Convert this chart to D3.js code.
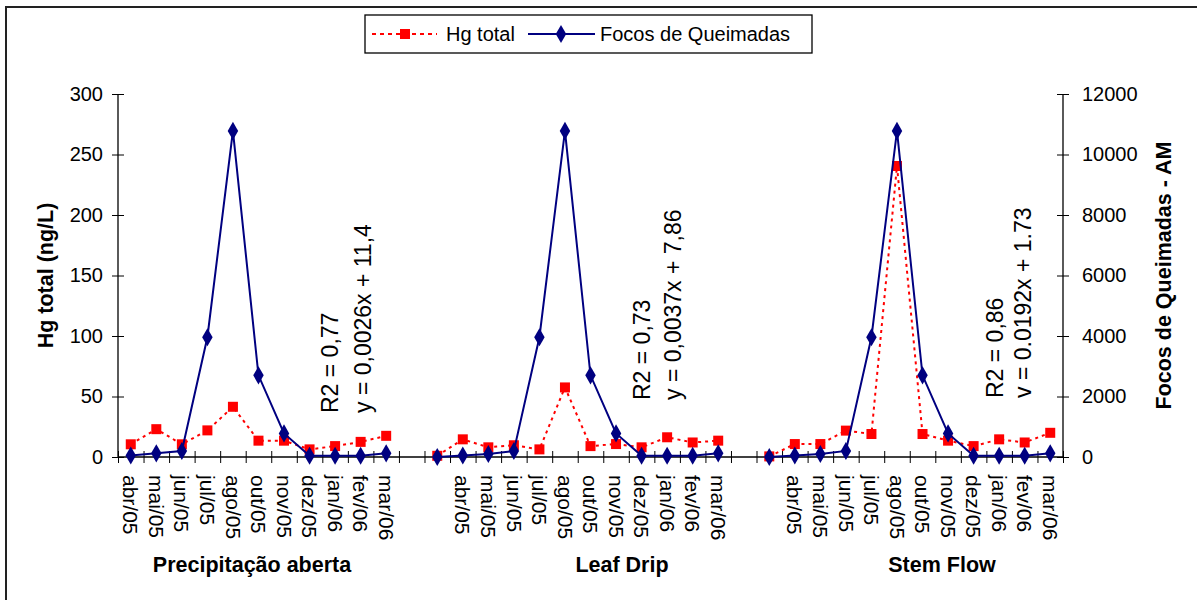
<!DOCTYPE html>
<html>
<head>
<meta charset="utf-8">
<script src="https://cdn.jsdelivr.net/npm/d3@7"></script>
<style>
  body { margin: 0; background: #fff; }
  svg text { font-family: "Liberation Sans", Arial, sans-serif; fill: #000; }
</style>
</head>
<body>
<div id="app"></div>
<script>
// month labels used under each group
const months = ["abr/05", "mai/05", "jun/05", "jul/05", "ago/05", "out/05",
  "nov/05", "dez/05", "jan/06", "fev/06", "mar/06"];
const groupNames = ["Precipitação aberta", "Leaf Drip", "Stem Flow"];

// Hg total (ng/L), left axis
const hgPrecip = [10.5, 23, 10.5, 22, 41.5, 13.5, 13.5, 6.3, 9, 12.5, 17.5];
const hgLeaf = [1, 14.6, 8, 9.7, 6.3, 57.5, 9, 10.7, 8, 16.3, 12, 13.5];
const hgStem = [0.5, 10.7, 10.7, 21.8, 19, 240.5, 19, 13.5, 9, 14.6, 12, 20];

// Focos de Queimadas - AM, right axis
const focosPrecip = [50, 120, 200, 3960, 10780, 2700, 780, 40, 40, 40, 120];
const focosLeaf = [0, 50, 100, 200, 3960, 10780, 2700, 780, 40, 40, 40, 120];
const focosStem = [0, 50, 100, 200, 3960, 10780, 2700, 780, 40, 40, 40, 120];

const leftTicks = [0, 50, 100, 150, 200, 250, 300];
const rightTicks = [0, 2000, 4000, 6000, 8000, 10000, 12000];

const fits = [
  ["R2 = 0,77", "y = 0,0026x + 11,4"],
  ["R2 = 0,73", "y = 0,0037x + 7,86"],
  ["R2 = 0,86", "v = 0.0192x + 1.73"]
];

// category layout: 37 slots, two blank slots between groups
const categories = [...months, "", "", ...months, "", "", ...months];
const seriesStart = [0, 12, 25];
const hgSeries = [hgPrecip, hgLeaf, hgStem];
const focosSeries = [focosPrecip, focosLeaf, focosStem];

const W = 1197, H = 600;
const pLeft = 118, pRight = 1063, pTop = 94, pBottom = 457;

const svg = d3.select("#app").append("svg")
  .attr("width", W).attr("height", H);

// chart frame (only top/left edges fall inside the picture)
svg.append("rect")
  .attr("x", 6).attr("y", 7).attr("width", 1210).attr("height", 620)
  .attr("fill", "none").attr("stroke", "#222").attr("stroke-width", 2);

const x = d3.scaleBand().domain(d3.range(categories.length)).range([pLeft, pRight]);
const xEdge = d3.scaleLinear().domain([0, categories.length]).range([pLeft, pRight]);
const yL = d3.scaleLinear().domain([0, 300]).range([pBottom, pTop]);
const yR = d3.scaleLinear().domain([0, 12000]).range([pBottom, pTop]);
const cx = (i) => x(i) + x.bandwidth() / 2;

// left axis
const gL = svg.append("g").attr("transform", `translate(${pLeft},0)`)
  .call(d3.axisLeft(yL).tickValues(leftTicks).tickSize(6).tickPadding(9));
gL.select(".domain").attr("d", `M0,${pBottom}V${pTop}`).attr("stroke", "#000").attr("stroke-width", 1.3);
gL.selectAll(".tick line").attr("x1", -6).attr("x2", 6);
gL.selectAll(".tick text").style("font-size", "20px").attr("fill", "#000");

// right axis
const gR = svg.append("g").attr("transform", `translate(${pRight},0)`)
  .call(d3.axisRight(yR).tickValues(rightTicks).tickFormat(d3.format("d")).tickSize(6).tickPadding(13));
gR.select(".domain").attr("d", `M0,${pBottom}V${pTop}`).attr("stroke", "#000").attr("stroke-width", 1.3);
gR.selectAll(".tick line").attr("x1", -6).attr("x2", 6);
gR.selectAll(".tick text").style("font-size", "20px").attr("fill", "#000");

// category axis: ticks between categories
const gX = svg.append("g").attr("transform", `translate(0,${pBottom})`)
  .call(d3.axisBottom(xEdge).tickValues(d3.range(categories.length + 1)).tickSize(6).tickFormat(""));
gX.select(".domain").attr("d", `M${pLeft},0H${pRight}`).attr("stroke", "#000").attr("stroke-width", 1.3);
gX.selectAll(".tick line").attr("y1", -6).attr("y2", 6);

// rotated month labels
svg.append("g").selectAll("text")
  .data(categories.map((c, i) => ({ c, i })).filter((d) => d.c !== ""))
  .join("text")
  .attr("transform", (d) => `translate(${cx(d.i)},${pBottom + 18}) rotate(90)`)
  .attr("dy", "0.35em")
  .style("font-size", "21px")
  .text((d) => d.c);

// group titles
const titleX = [252, 622, 942];
svg.append("g").selectAll("text")
  .data(groupNames)
  .join("text")
  .attr("x", (d, i) => titleX[i])
  .attr("y", 572)
  .attr("text-anchor", "middle")
  .style("font-size", "21.5px").style("font-weight", "bold")
  .text((d) => d);

// axis titles
svg.append("text")
  .attr("transform", `translate(45,${(pTop + pBottom) / 2}) rotate(-90)`)
  .attr("text-anchor", "middle").attr("dy", "0.35em")
  .style("font-size", "21.5px").style("font-weight", "bold")
  .text("Hg total (ng/L)");
svg.append("text")
  .attr("transform", `translate(1163,${(pTop + pBottom) / 2}) rotate(-90)`)
  .attr("text-anchor", "middle").attr("dy", "0.35em")
  .style("font-size", "21.5px").style("font-weight", "bold")
  .text("Focos de Queimadas - AM");

// series
const lineL = d3.line().x((d) => cx(d.i)).y((d) => yL(d.v));
const lineR = d3.line().x((d) => cx(d.i)).y((d) => yR(d.v));
const diamond = d3.symbol().type(d3.symbolDiamond).size(95);

hgSeries.forEach((vals, g) => {
  const pts = vals.map((v, k) => ({ i: seriesStart[g] + k, v }));
  svg.append("path").datum(pts)
    .attr("d", lineL).attr("fill", "none")
    .attr("stroke", "#ff0000").attr("stroke-width", 2).attr("stroke-dasharray", "3,4");
  svg.append("g").selectAll("rect").data(pts).join("rect")
    .attr("x", (d) => cx(d.i) - 5).attr("y", (d) => yL(d.v) - 5)
    .attr("width", 10).attr("height", 10).attr("fill", "#ff0000");
});

focosSeries.forEach((vals, g) => {
  const pts = vals.map((v, k) => ({ i: seriesStart[g] + k, v }));
  svg.append("path").datum(pts)
    .attr("d", lineR).attr("fill", "none")
    .attr("stroke", "#000080").attr("stroke-width", 2);
  svg.append("g").selectAll("path").data(pts).join("path")
    .attr("d", diamond)
    .attr("transform", (d) => `translate(${cx(d.i)},${yR(d.v)})`)
    .attr("fill", "#000080");
});

// regression annotations
const fitPos = [[330, 363, 413], [642, 673, 400], [995, 1023, 398]];
fits.forEach((lines, g) => {
  lines.forEach((t, j) => {
    svg.append("text")
      .attr("transform", `translate(${fitPos[g][j]},${fitPos[g][2]}) rotate(-90)`)
      .attr("dy", "0.35em")
      .style("font-size", "23px")
      .text(t);
  });
});

// legend
const lg = svg.append("g");
lg.append("rect").attr("x", 365).attr("y", 15).attr("width", 447).attr("height", 38)
  .attr("fill", "#fff").attr("stroke", "#000").attr("stroke-width", 1.3);
lg.append("line").attr("x1", 372).attr("x2", 437).attr("y1", 34).attr("y2", 34)
  .attr("stroke", "#ff0000").attr("stroke-width", 2).attr("stroke-dasharray", "4,4");
lg.append("rect").attr("x", 400).attr("y", 29).attr("width", 10).attr("height", 10).attr("fill", "#ff0000");
lg.append("text").attr("x", 446).attr("y", 34).attr("dy", "0.35em").style("font-size", "20px").text("Hg total");
lg.append("line").attr("x1", 528).attr("x2", 595).attr("y1", 34).attr("y2", 34)
  .attr("stroke", "#000080").attr("stroke-width", 2);
lg.append("path").attr("d", diamond).attr("transform", "translate(561,34)").attr("fill", "#000080");
lg.append("text").attr("x", 600).attr("y", 34).attr("dy", "0.35em").style("font-size", "20px").text("Focos de Queimadas");
</script>
</body>
</html>
